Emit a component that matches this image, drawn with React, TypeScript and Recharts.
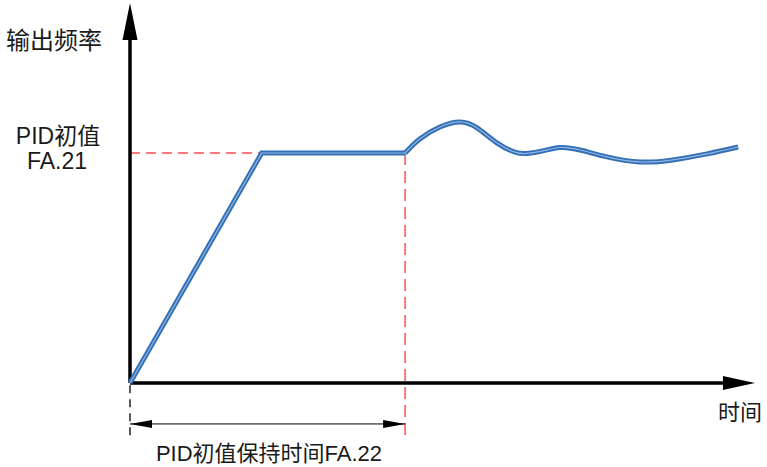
import {
  LineChart,
  Line,
  XAxis,
  YAxis,
  ReferenceLine,
  ReferenceDot,
} from "recharts";

// time axis 0..100, output frequency: PID initial value = 100
const rampTime = [0, 21.6, 45.1];
const rampValue = [0, 100, 100];

const waveTime = [45.1, 47.5, 50.8, 54.1, 56.9, 60.2, 63.1, 65.1, 67.7, 70.5, 73.8, 78.2, 83.6, 89.0, 94.6, 99.7];
const waveValue = [100, 106.1, 111.3, 113.5, 110.9, 104.3, 100.4, 99.8, 100.9, 102.4, 101.3, 98.3, 96.1, 97.0, 99.6, 102.6];

const pidValue = 100;
const holdTime = 45.1;
const xAxisEnd = 97.2;
const yAxisEnd = 149.1;
const belowLevel = -23.5;
const spanLevel = -17.8;

const rampData = rampTime.map((t, i) => ({ t, v: rampValue[i] }));
const waveData = waveTime.map((t, i) => ({ t, v: waveValue[i] }));

const font = "'Liberation Sans', Arial, 'Noto Sans CJK SC', sans-serif";
const red = "#ff5050";
const blue = "#3470b5";
const blueLight = "#8fb5e3";

const ArrowRight = ({ cx, cy }: any) => (
  <polygon points={`${cx},${cy - 7} ${cx + 32},${cy} ${cx},${cy + 7}`} fill="#000" />
);
const ArrowUp = ({ cx, cy }: any) => (
  <polygon points={`${cx - 7.5},${cy} ${cx},${cy - 37} ${cx + 7.5},${cy}`} fill="#000" />
);
const SmallLeft = ({ cx, cy }: any) => (
  <polygon points={`${cx},${cy} ${cx + 22},${cy - 4} ${cx + 22},${cy + 4}`} fill="#000" />
);
const SmallRight = ({ cx, cy }: any) => (
  <polygon points={`${cx},${cy} ${cx - 22},${cy - 4} ${cx - 22},${cy + 4}`} fill="#000" />
);

export default function App() {
  return (
    <div style={{ position: "absolute", left: 0, top: 0, background: "#fff" }}>
      <LineChart
        width={767}
        height={467}
        margin={{ top: 38, right: 27, left: 130, bottom: 84 }}
      >
        <XAxis dataKey="t" type="number" domain={[0, 100]} hide />
        <YAxis type="number" domain={[0, 150]} hide />

        <ReferenceLine
          segment={[{ x: 0, y: pidValue }, { x: rampTime[1], y: pidValue }]}
          stroke={red}
          strokeWidth={1.3}
          strokeDasharray="10 6"
          ifOverflow="visible"
        />
        <ReferenceLine
          segment={[{ x: holdTime, y: pidValue }, { x: holdTime, y: belowLevel }]}
          stroke={red}
          strokeWidth={1.5}
          strokeDasharray="12 6"
          ifOverflow="visible"
        />
        <ReferenceLine
          segment={[{ x: 0, y: -1 }, { x: 0, y: belowLevel }]}
          stroke="#000"
          strokeWidth={1.3}
          strokeDasharray="8 6"
          ifOverflow="visible"
        />
        <ReferenceLine
          segment={[{ x: 0, y: spanLevel }, { x: holdTime, y: spanLevel }]}
          stroke="#000"
          strokeWidth={1}
          ifOverflow="visible"
        />
        <ReferenceDot x={0} y={spanLevel} shape={SmallLeft} ifOverflow="visible" />
        <ReferenceDot x={holdTime} y={spanLevel} shape={SmallRight} ifOverflow="visible" />

        <ReferenceLine
          segment={[{ x: 0, y: 0 }, { x: xAxisEnd, y: 0 }]}
          stroke="#000"
          strokeWidth={3.5}
          ifOverflow="visible"
        />
        <ReferenceLine
          segment={[{ x: 0, y: 0 }, { x: 0, y: yAxisEnd }]}
          stroke="#000"
          strokeWidth={3.5}
          ifOverflow="visible"
        />
        <ReferenceDot x={xAxisEnd} y={0} shape={ArrowRight} ifOverflow="visible" />
        <ReferenceDot x={0} y={yAxisEnd} shape={ArrowUp} ifOverflow="visible" />

        <Line data={rampData} dataKey="v" type="linear" stroke={blue} strokeWidth={5} dot={false} isAnimationActive={false} />
        <Line data={waveData} dataKey="v" type="natural" stroke={blue} strokeWidth={5} dot={false} isAnimationActive={false} />
        <Line data={rampData} dataKey="v" type="linear" stroke={blueLight} strokeWidth={1.2} dot={false} isAnimationActive={false} />
        <Line data={waveData} dataKey="v" type="natural" stroke={blueLight} strokeWidth={1.2} dot={false} isAnimationActive={false} />

        <g fontFamily={font} fill="#1a1a1a">
          <text x={6} y={40} fontSize={24} dominantBaseline="central">输出频率</text>
          <text x={58} y={136} fontSize={23} textAnchor="middle" dominantBaseline="central">PID初值</text>
          <text x={57} y={161} fontSize={23} textAnchor="middle" dominantBaseline="central">FA.21</text>
          <text x={269} y={453} fontSize={22} textAnchor="middle" dominantBaseline="central">PID初值保持时间FA.22</text>
          <text x={740} y={412} fontSize={22} textAnchor="middle" dominantBaseline="central">时间</text>
        </g>
      </LineChart>
    </div>
  );
}
